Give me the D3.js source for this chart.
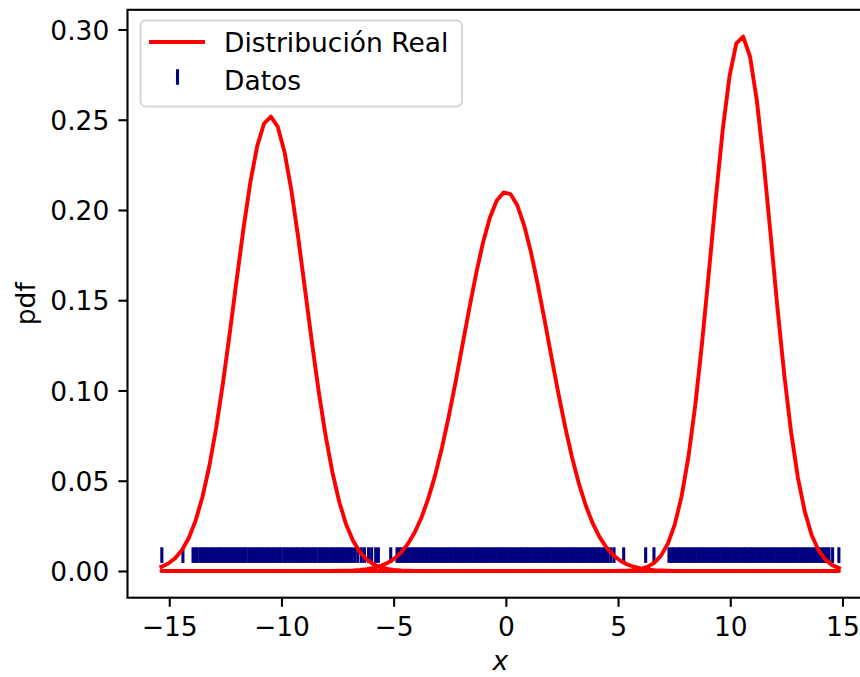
<!DOCTYPE html>
<html>
<head>
<meta charset="utf-8">
<script src="https://cdn.jsdelivr.net/npm/d3@7"></script>
<style>
  html, body { margin: 0; padding: 0; background: #ffffff; }
  svg { display: block; font-family: "DejaVu Sans", sans-serif; }
</style>
</head>
<body>
<svg id="chart" width="860" height="677"></svg>
<script>
// ---- data ----
const xGrid = [
  -15.350,-15.045,-14.740,-14.435,-14.130,-13.825,-13.520,-13.215,-12.910,-12.605,
  -12.300,-11.995,-11.690,-11.385,-11.080,-10.775,-10.470,-10.165,-9.860,-9.555,
  -9.250,-8.945,-8.640,-8.335,-8.030,-7.725,-7.420,-7.115,-6.810,-6.505,
  -6.200,-5.895,-5.590,-5.285,-4.980,-4.675,-4.370,-4.065,-3.760,-3.455,
  -3.150,-2.845,-2.540,-2.235,-1.930,-1.625,-1.320,-1.015,-0.710,-0.405,
  -0.100,0.205,0.510,0.815,1.120,1.425,1.730,2.035,2.340,2.645,
  2.950,3.255,3.560,3.865,4.170,4.475,4.780,5.085,5.390,5.695,
  6.000,6.305,6.610,6.915,7.220,7.525,7.830,8.135,8.440,8.745,
  9.050,9.355,9.660,9.965,10.270,10.575,10.880,11.185,11.490,11.795,
  12.100,12.405,12.710,13.015,13.320,13.625,13.930,14.235,14.540,14.845
];
const pdfA = [
  0.00233,0.00412,0.00703,0.01154,0.01828,0.02789,0.04098,0.05804,0.07923,0.1042,
  0.1321,0.1613,0.1899,0.2154,0.2354,0.2479,0.2517,0.2461,0.2320,0.2107,
  0.1844,0.1556,0.1264,0.0990,0.0748,0.0544,0.0381,0.0257,0.01675,0.0105,
  0.00635,0.0037,0.00208,0.00112,0.00058,0.00029,0.00014,0.00007,0.00003,0,
  0,0,0,0,0,0,0,0,0,0,
  0,0,0,0,0,0,0,0,0,0,
  0,0,0,0,0,0,0,0,0,0,
  0,0,0,0,0,0,0,0,0,0,
  0,0,0,0,0,0,0,0,0,0,
  0,0,0,0,0,0,0,0,0,0
];
const pdfB = [
  0,0,0,0,0,0,0,0,0,0,
  0,0,0,0,0,0,0,0,0,0,
  0,0,0,0,0,0.00005,0.0001,0.00019,0.00034,0.0006,
  0.00102,0.00171,0.00277,0.00439,0.00677,0.01018,0.01491,0.0213,0.02963,0.0402,
  0.0531,0.0684,0.0859,0.1051,0.1254,0.1457,0.1650,0.1821,0.1958,0.2053,
  0.2097,0.2088,0.2026,0.1915,0.1765,0.1585,0.1387,0.1183,0.0984,0.0797,
  0.0629,0.0484,0.0363,0.0265,0.0189,0.01311,0.00887,0.00584,0.00375,0.00235,
  0.00144,0.00085,0.00049,0.00028,0.00015,0.00008,0.00004,0,0,0,
  0,0,0,0,0,0,0,0,0,0,
  0,0,0,0,0,0,0,0,0,0
];
const pdfC = [
  0,0,0,0,0,0,0,0,0,0,
  0,0,0,0,0,0,0,0,0,0,
  0,0,0,0,0,0,0,0,0,0,
  0,0,0,0,0,0,0,0,0,0,
  0,0,0,0,0,0,0,0,0,0,
  0,0,0,0,0,0,0,0,0,0,
  0,0,0,0,0,0,0,0.00009,0.00022,0.0005,
  0.0011,0.00229,0.00453,0.0085,0.01516,0.02569,0.04135,0.0632,0.0918,0.1266,
  0.1659,0.2064,0.2440,0.2740,0.2923,0.2961,0.2850,0.2605,0.2262,0.1866,
  0.1462,0.1088,0.0769,0.0516,0.0329,0.01993,0.01148,0.00628,0.00326,0.00161
];
// sample positions of the rug ("Datos")
const datos = [
  -15.33,-14.39,
  -13.94,-13.83,-13.75,-13.62,-13.52,-13.41,-13.33,-13.21,-13.10,-13.02,-12.90,-12.80,-12.71,-12.60,
  -12.49,-12.40,-12.29,-12.18,-12.09,-11.97,-11.88,-11.77,-11.66,-11.57,-11.45,-11.36,-11.25,-11.14,
  -11.05,-10.93,-10.84,-10.73,-10.62,-10.53,-10.41,-10.32,-10.21,-10.10,-10.01,-9.89,-9.80,-9.69,
  -9.58,-9.49,-9.37,-9.28,-9.17,-9.06,-8.97,-8.85,-8.76,-8.65,-8.54,-8.45,-8.33,-8.24,-8.13,-8.02,
  -7.93,-7.81,-7.72,-7.61,-7.50,-7.41,-7.29,-7.20,-7.09,-6.98,-6.88,
  -6.74,-6.60,-6.44,-6.30,-6.12,-5.98,-5.80,-5.68,
  -5.13,
  -4.85,-4.74,-4.63,-4.52,-4.42,-4.31,-4.20,-4.10,-3.99,-3.88,-3.78,-3.67,-3.56,-3.46,-3.35,-3.24,
  -3.14,-3.03,-2.92,-2.82,-2.71,-2.60,-2.50,-2.39,-2.28,-2.18,-2.07,-1.96,-1.86,-1.75,-1.64,-1.54,
  -1.43,-1.32,-1.22,-1.11,-1.00,-0.90,-0.79,-0.68,-0.58,-0.47,-0.36,-0.26,-0.15,-0.04,0.06,0.17,
  0.28,0.38,0.49,0.60,0.70,0.81,0.92,1.02,1.13,1.24,1.34,1.45,1.56,1.66,1.77,1.88,1.98,2.09,2.20,
  2.30,2.41,2.52,2.62,2.73,2.84,2.94,3.05,3.16,3.26,3.37,3.48,3.58,3.69,3.80,3.90,4.01,4.12,4.22,
  4.33,4.44,4.55,
  4.68,4.82,5.25,
  6.23,6.60,
  7.27,7.38,7.48,7.59,7.70,7.80,7.91,8.02,8.12,8.23,8.34,8.44,8.55,8.66,8.76,8.87,8.98,9.08,9.19,
  9.30,9.40,9.51,9.62,9.72,9.83,9.94,10.04,10.15,10.26,10.36,10.47,10.58,10.68,10.79,10.90,11.00,
  11.11,11.22,11.32,11.43,11.54,11.64,11.75,11.86,11.96,12.07,12.18,12.28,12.39,12.50,12.60,12.71,
  12.82,12.92,13.03,13.14,13.24,13.35,13.46,13.56,13.67,13.78,13.88,13.99,14.10,14.20,14.31,14.40,
  14.56,14.84
];
const rugLevel = 0.0088;
const xTicks = [-15, -10, -5, 0, 5, 10, 15];
const yTicks = [0.00, 0.05, 0.10, 0.15, 0.20, 0.25, 0.30];
const legendLabels = ["Distribución Real", "Datos"];

// ---- layout ----
const svg = d3.select("#chart");
const pL = 127.5, pR = 873.0, pT = 9.8, pB = 597.7;
const fs = 26.5;
const tickLen = 9.1, tickPad = 9.1, spineW = 2.08;

const xS = d3.scaleLinear().domain([-16.86, 16.36]).range([pL, pR]);
const yS = d3.scaleLinear().domain([-0.0148, 0.3109]).range([pB, pT]);

// red "Distribución Real": three component pdfs concatenated into one polyline
const linePts = [];
[pdfA, pdfB, pdfC].forEach(arr => xGrid.forEach((xv, i) => linePts.push([xv, arr[i]])));

const plot = svg.append("g");

// rug (Datos)
const halfMark = 7.8;
plot.append("g").selectAll("line").data(datos).join("line")
  .attr("x1", d => xS(d)).attr("x2", d => xS(d))
  .attr("y1", yS(rugLevel) - halfMark).attr("y2", yS(rugLevel) + halfMark)
  .attr("stroke", "#000080").attr("stroke-width", 3.1);

plot.append("path")
  .datum(linePts)
  .attr("d", d3.line().x(d => xS(d[0])).y(d => yS(d[1])))
  .attr("fill", "none").attr("stroke", "#ff0000")
  .attr("stroke-width", 3.9).attr("stroke-linejoin", "round").attr("stroke-linecap", "square");

// axes
const xAxis = d3.axisBottom(xS).tickValues(xTicks)
  .tickFormat(d => d < 0 ? "\u2212" + Math.abs(d) : String(d))
  .tickSize(tickLen).tickPadding(tickPad);
const yAxis = d3.axisLeft(yS).tickValues(yTicks)
  .tickFormat(d3.format(".2f"))
  .tickSize(tickLen).tickPadding(tickPad);

const gx = svg.append("g").attr("transform", `translate(0,${pB})`).call(xAxis);
const gy = svg.append("g").attr("transform", `translate(${pL},0)`).call(yAxis);
[gx, gy].forEach(g => {
  g.select(".domain").remove();
  g.selectAll(".tick line").attr("stroke", "#000").attr("stroke-width", spineW);
  g.selectAll(".tick text").attr("fill", "#000").attr("font-size", fs)
    .attr("font-family", "DejaVu Sans");
});
gx.selectAll(".tick text").attr("dy", null).attr("y", tickLen + tickPad + 0.76 * fs);
gy.selectAll(".tick text").attr("dy", null).attr("y", 0.729 * fs / 2);

// spines
svg.append("rect")
  .attr("x", pL).attr("y", pT).attr("width", pR - pL).attr("height", pB - pT)
  .attr("fill", "none").attr("stroke", "#000").attr("stroke-width", spineW);

// axis labels
svg.append("text")
  .attr("x", (pL + pR) / 2).attr("y", 670)
  .attr("text-anchor", "middle").attr("font-size", fs).attr("font-style", "italic")
  .attr("font-family", "DejaVu Sans").text("x");
svg.append("text")
  .attr("transform", `translate(34.8,${(pT + pB) / 2}) rotate(-90)`)
  .attr("text-anchor", "middle").attr("font-size", fs)
  .attr("font-family", "DejaVu Sans").text("pdf");

// legend
const lg = svg.append("g");
lg.append("rect")
  .attr("x", 140.5).attr("y", 20.5).attr("width", 321.5).attr("height", 86)
  .attr("rx", 5.2).attr("ry", 5.2)
  .attr("fill", "#ffffff").attr("fill-opacity", 0.8)
  .attr("stroke", "#cccccc").attr("stroke-opacity", 0.8).attr("stroke-width", 2);
lg.append("line")
  .attr("x1", 151).attr("x2", 203).attr("y1", 42).attr("y2", 42)
  .attr("stroke", "#ff0000").attr("stroke-width", 3.9).attr("stroke-linecap", "square");
lg.append("line")
  .attr("x1", 177.5).attr("x2", 177.5).attr("y1", 77 - halfMark).attr("y2", 77 + halfMark)
  .attr("stroke", "#000080").attr("stroke-width", 3.1);
lg.selectAll("text.lab").data(legendLabels).join("text")
  .attr("class", "lab")
  .attr("x", 224).attr("y", (d, i) => 51.5 + i * 38.6)
  .attr("font-size", fs).attr("font-family", "DejaVu Sans").attr("fill", "#000")
  .text(d => d);
</script>
</body>
</html>
